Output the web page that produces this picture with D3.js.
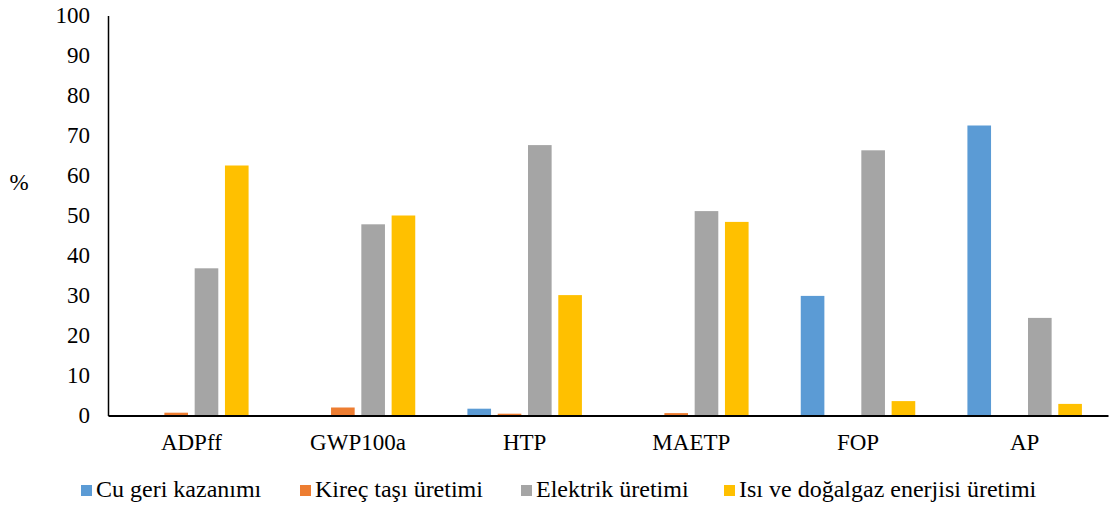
<!DOCTYPE html>
<html>
<head>
<meta charset="utf-8">
<script src="https://cdn.jsdelivr.net/npm/d3@7"></script>
<style>
  html, body { margin: 0; padding: 0; background: #fff; }
  svg { display: block; }
  svg text { font-family: 'Liberation Serif', 'Times New Roman', serif; fill: #000; }
</style>
</head>
<body>
<svg id="chart" width="1112" height="506"></svg>
<script>
// Impact categories on the x axis
const categories = ["ADPff", "GWP100a", "HTP", "MAETP", "FOP", "AP"];

// Process contributions (%) for each impact category
const seriesNames = ["Cu geri kazanımı", "Kireç taşı üretimi", "Elektrik üretimi", "Isı ve doğalgaz enerjisi üretimi"];
const cuRecovery   = [0,    0,    1.7,  0,    29.9, 72.5];
const limestone    = [0.7,  2.0,  0.45, 0.6,  0,    0];
const electricity  = [36.8, 47.8, 67.6, 51.1, 66.3, 24.4];
const heatGas      = [62.5, 50.0, 30.1, 48.4, 3.6,  2.9];

const yTicks = [0, 10, 20, 30, 40, 50, 60, 70, 80, 90, 100];
const colors = ["#5B9BD5", "#ED7D31", "#A5A5A5", "#FFC000"];

const seriesValues = [cuRecovery, limestone, electricity, heatGas];

const svg = d3.select("#chart");
const plotLeft = 108, plotRight = 1108, plotTop = 15.5, plotBottom = 415.5;
const serif = "'Liberation Serif', 'Times New Roman', serif";

const x0 = d3.scaleBand().domain(categories).range([plotLeft, plotRight])
  .paddingInner(0.273).paddingOuter(0.1365);
const x1 = d3.scaleBand().domain(d3.range(seriesNames.length)).range([0, x0.bandwidth()])
  .paddingInner(0.22).paddingOuter(0.11);
const y = d3.scaleLinear().domain([0, 100]).range([plotBottom, plotTop]);
const color = d3.scaleOrdinal().domain(d3.range(seriesNames.length)).range(colors);

// Bars
const groups = svg.append("g").selectAll("g")
  .data(categories)
  .join("g")
  .attr("transform", d => `translate(${x0(d)},0)`);

groups.selectAll("rect")
  .data((d, i) => seriesValues.map((vals, s) => ({ s, v: vals[i] })).filter(e => e.v > 0))
  .join("rect")
  .attr("x", d => x1(d.s))
  .attr("y", d => y(d.v))
  .attr("width", x1.bandwidth())
  .attr("height", d => y(0) - y(d.v))
  .attr("fill", d => color(d.s));

// Y axis
const yAxis = d3.axisLeft(y).tickValues(yTicks).tickSize(0).tickPadding(18);
const gy = svg.append("g").attr("transform", `translate(${plotLeft},0)`).call(yAxis);
gy.attr("font-family", null).attr("font-size", null);
gy.select(".domain").attr("stroke", "#000").attr("stroke-width", 1.5);
gy.selectAll("text").style("font-family", serif).style("font-size", "23px").style("fill", "#000");

// X axis
const xAxis = d3.axisBottom(x0).tickSize(0).tickPadding(18);
const gx = svg.append("g").attr("transform", `translate(0,${plotBottom})`).call(xAxis);
gx.attr("font-family", null).attr("font-size", null);
gx.select(".domain").attr("stroke", "#000").attr("stroke-width", 2);
gx.selectAll("text").style("font-family", serif).style("font-size", "23px").style("fill", "#000");

// Y axis title
svg.append("text")
  .attr("x", 19).attr("y", 190)
  .attr("text-anchor", "middle")
  .style("font-size", "23px")
  .text("%");

// Legend
const legendX = [81, 300, 521, 724];
const legend = svg.append("g").selectAll("g")
  .data(seriesNames)
  .join("g")
  .attr("transform", (d, i) => `translate(${legendX[i]},497)`);
legend.append("rect")
  .attr("x", 0).attr("y", -12).attr("width", 11).attr("height", 11)
  .attr("fill", (d, i) => colors[i]);
legend.append("text")
  .attr("x", 15).attr("y", 0)
  .style("font-size", "24px")
  .text(d => d);
</script>
</body>
</html>
